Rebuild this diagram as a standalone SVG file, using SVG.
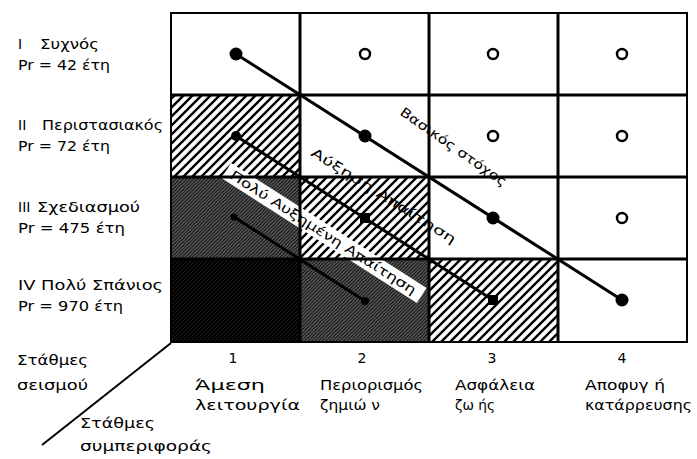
<svg xmlns="http://www.w3.org/2000/svg" width="697" height="459" viewBox="0 0 697 459">
<style>
text{font-family:"DejaVu Sans","Liberation Sans",Arial,sans-serif;font-size:14px;fill:#000}
.d{font-size:13px}
.grid{stroke:#000;stroke-width:3;fill:none}
.line{stroke:#000;stroke-width:3;fill:none}
.ring{fill:#fff;stroke:#000;stroke-width:2.5}
</style>
<defs>
<pattern id="light" patternUnits="userSpaceOnUse" width="9" height="9">
<rect width="9" height="9" fill="#fff"/>
<path d="M-2,11 L11,-2 M-2,2 L2,-2 M7,11 L11,7" stroke="#000" stroke-width="2.4"/>
</pattern>
<pattern id="dark" patternUnits="userSpaceOnUse" width="3.5" height="3.5">
<rect width="3.5" height="3.5" fill="#161616"/>
<path d="M-1,4.5 L4.5,-1 M-1,1 L1,-1 M2.5,4.5 L4.5,2.5" stroke="#7a7a7a" stroke-width="0.9"/>
</pattern>
<pattern id="black" patternUnits="userSpaceOnUse" width="4" height="4">
<rect width="4" height="4" fill="#000"/>
<path d="M-1,5 L5,-1" stroke="#1c1c1c" stroke-width="1"/>
</pattern>
</defs>

<g id="cells">
<rect x="171" y="13" width="516" height="329" fill="#fff"/>
<rect x="171" y="95" width="129" height="82" fill="url(#light)"/>
<rect x="171" y="177" width="129" height="82" fill="url(#dark)"/>
<rect x="300" y="177" width="129" height="82" fill="url(#light)"/>
<rect x="171" y="259" width="129" height="83" fill="url(#black)"/>
<rect x="300" y="259" width="129" height="83" fill="url(#dark)"/>
<rect x="429" y="259" width="129" height="83" fill="url(#light)"/>
</g>

<g id="band-high">
<rect x="-116" y="-9" width="232" height="18" fill="#fff" transform="translate(324,233) rotate(32.6)"/>
</g>

<g id="grid">
<rect x="171" y="13" width="516" height="329" stroke="#000" stroke-width="2" fill="none"/>
<path class="grid" d="M300,13 V342 M429,13 V342 M558,13 V342 M171,95 H687 M171,177 H687 M171,259 H687"/>
</g>

<g id="connectors">
<path class="line" d="M236,54 L622,300"/>
<path class="line" d="M236,136 L493,300"/>
<path class="line" stroke-width="2.5" d="M234,217 L365,301"/>
<path d="M42,445 L171,343" stroke="#000" stroke-width="2" fill="none"/>
</g>

<g id="markers">
<circle cx="236" cy="54" r="6.5" fill="#000"/>
<circle cx="365" cy="136" r="6.5" fill="#000"/>
<circle cx="493" cy="218" r="6.5" fill="#000"/>
<circle cx="622" cy="300" r="6.5" fill="#000"/>
<circle cx="236" cy="136" r="5" fill="#000"/>
<rect x="360" y="213" width="10" height="10" fill="#000"/>
<rect x="488" y="295" width="10" height="10" fill="#000"/>
<circle cx="234" cy="217" r="3.5" fill="#000"/>
<circle cx="365" cy="301" r="4" fill="#000"/>
<circle class="ring" cx="365" cy="54" r="5"/>
<circle class="ring" cx="493" cy="54" r="5"/>
<circle class="ring" cx="622" cy="54" r="5"/>
<circle class="ring" cx="493" cy="136" r="5"/>
<circle class="ring" cx="622" cy="136" r="5"/>
<circle class="ring" cx="622" cy="218" r="5"/>
</g>

<g id="diag-labels">
<text class="d" transform="translate(399,114) rotate(35)" textLength="127" lengthAdjust="spacingAndGlyphs">Βασικός στόχος</text>
<text class="d" transform="translate(310,155) rotate(32)" textLength="168" lengthAdjust="spacingAndGlyphs">Αύξηση Απαίτηση</text>
<text class="d" transform="translate(324,233) rotate(32.6)" x="-110" y="4.5" textLength="218" lengthAdjust="spacingAndGlyphs">Πολύ Αυξημένη Απαίτηση</text>
</g>

<g id="row-labels">
<text x="18" y="49">I</text>
<text x="40" y="49" textLength="59" lengthAdjust="spacingAndGlyphs">Συχνός</text>
<text x="18" y="70" textLength="92" lengthAdjust="spacingAndGlyphs">Pr = 42 έτη</text>
<text x="18" y="130">II</text>
<text x="42" y="130" textLength="121" lengthAdjust="spacingAndGlyphs">Περιστασιακός</text>
<text x="18" y="151" textLength="92" lengthAdjust="spacingAndGlyphs">Pr = 72 έτη</text>
<text x="18" y="212">III</text>
<text x="37" y="212" textLength="103" lengthAdjust="spacingAndGlyphs">Σχεδιασμού</text>
<text x="18" y="233" textLength="107" lengthAdjust="spacingAndGlyphs">Pr = 475 έτη</text>
<text x="18" y="290" textLength="145" lengthAdjust="spacingAndGlyphs">IV Πολύ Σπάνιος</text>
<text x="18" y="311" textLength="105" lengthAdjust="spacingAndGlyphs">Pr = 970 έτη</text>
</g>

<g id="axis-labels">
<text x="17" y="365" textLength="71" lengthAdjust="spacingAndGlyphs">Στάθμες</text>
<text x="17" y="390" textLength="71" lengthAdjust="spacingAndGlyphs">σεισμού</text>
<text x="80" y="428" textLength="75" lengthAdjust="spacingAndGlyphs">Στάθμες</text>
<text x="80" y="451" textLength="132" lengthAdjust="spacingAndGlyphs">συμπεριφοράς</text>
</g>

<g id="col-labels">
<text x="233" y="363" text-anchor="middle">1</text>
<text x="195" y="390" textLength="70" lengthAdjust="spacingAndGlyphs">Άμεση</text>
<text x="195" y="410" textLength="105" lengthAdjust="spacingAndGlyphs">λειτουργία</text>
<text x="362" y="363" text-anchor="middle">2</text>
<text x="320" y="390" textLength="103" lengthAdjust="spacingAndGlyphs">Περιορισμός</text>
<text x="320" y="410" textLength="60" lengthAdjust="spacingAndGlyphs">ζημιώ ν</text>
<text x="492" y="363" text-anchor="middle">3</text>
<text x="455" y="390" textLength="80" lengthAdjust="spacingAndGlyphs">Ασφάλεια</text>
<text x="455" y="410" textLength="40" lengthAdjust="spacingAndGlyphs">ζω ής</text>
<text x="622" y="363" text-anchor="middle">4</text>
<text x="585" y="390" textLength="80" lengthAdjust="spacingAndGlyphs">Αποφυγ ή</text>
<text x="585" y="410" textLength="107" lengthAdjust="spacingAndGlyphs">κατάρρευσης</text>
</g>
</svg>
